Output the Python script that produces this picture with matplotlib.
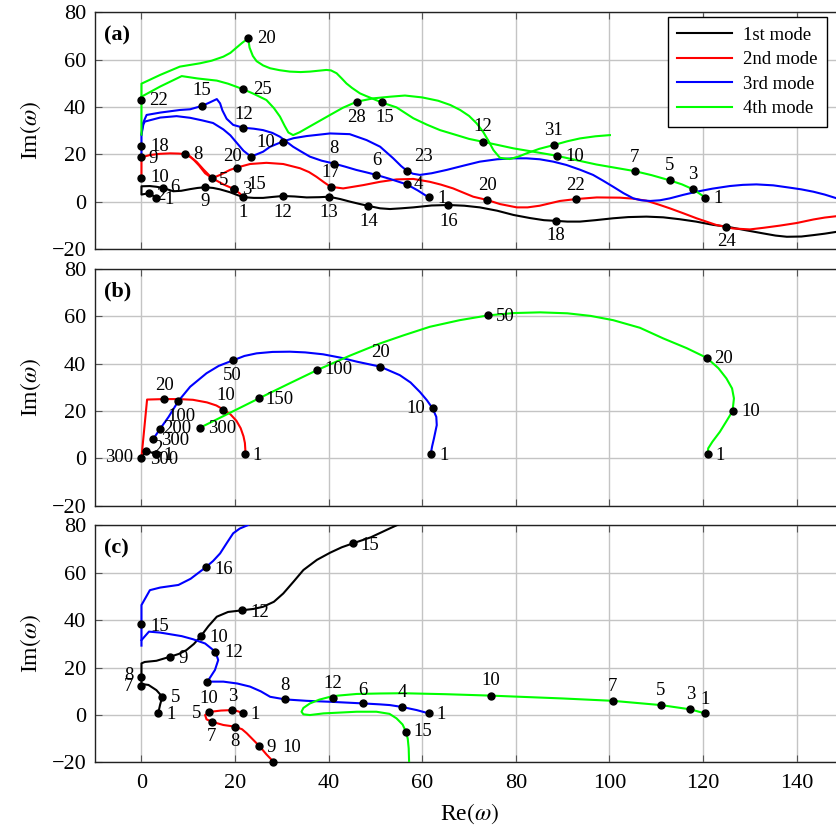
import matplotlib
matplotlib.use('Agg')
import matplotlib.pyplot as plt

# ---------------- data: panel (a) ----------------
a_black = [(3.2,1.6),(1.6,3.6),(0,3.0),(0,6.5),(1.8,6.6),(3.2,6.3),(4.6,5.8),(6.8,4.4),(8.5,4.6),(10.4,5.3),
           (12,5.8),(13.6,6.1),(15.3,5.8),(16.8,5.2),(18.9,4.0),(20.5,2.8),(21.8,1.9),(24,1.6),(26,1.6),(28,2.0),
           (30.2,2.4),(32.7,2.2),(35.3,1.8),(38,1.9),(40.1,2.1),(42.5,1.1),(44.6,0),(46.5,-0.9),(48.5,-1.8),
           (51,-2.8),(53.1,-3.1),(55.5,-2.8),(58.1,-2.4),(62,-1.6),(65.6,-1.4),(69,-1.7),(72.3,-2.4),(76,-3.8),
           (79.5,-5.6),(83,-6.9),(86,-7.8),(88.6,-8.1),(91,-8.4),(93.7,-8.4),(97,-7.8),(100.8,-7.0),(104,-6.5),
           (107.9,-6.3),(111.5,-6.6),(115,-7.4),(118.5,-8.4),(122.2,-9.8),(125,-10.5),(129,-12),(132.9,-13.4),
           (135.5,-14.3),(137.9,-14.8),(141,-14.7),(143.6,-14.1),(146,-13.5),(148.6,-12.7),(151,-12.0)]
a_red_1 = [(0,10.2),(0,18.7),(1.8,19.7),(4,20.2),(6.1,20.4),(8,20.3),(9.2,20.1),(10.5,18.8),(11.8,16.8),
           (13.3,13.5),(15.1,9.9),(16.5,8.4),(17.5,7.3),(19.7,5.4),(21,3.5),(21.8,1.9)]
a_red_2 = [(9.2,20.1),(10,19.8),(11.2,17.6),(12.3,15.3),(13.6,12.0),(15.1,9.9),(16.8,11.3),(18.9,13.4),
           (20.4,14.4),(23.2,15.9),(26.7,16.4),(30.3,15.9),(33.9,14.1),(35.8,12.5),(37.4,10.5),(39,8.2),
           (40.4,6.3),(43.1,5.6),(47.4,7.0),(51,8.4),(54.5,9.4),(58.1,9.6),(61.6,8.4),(64,7.2),(66.6,5.6),
           (68.8,3.8),(70.9,2.1),(73.9,0.7),(76.6,-1.0),(80.2,-2.4),(82.5,-2.4),(85.1,-1.7),(89.4,0.3),
           (92.8,1.1),(97.3,1.8),(102.2,1.7),(105,1.3),(107.9,0.4),(110.5,-1.2),(112.9,-2.8),(115.8,-4.9),
           (118.6,-7.0),(122.8,-9.8),(126.4,-11.3),(130,-11.7),(133,-11.0),(136.4,-10.1),(140,-9),
           (143.6,-7.5),(146,-6.7),(148.6,-6.1),(151,-5.7)]
a_blue_1 = [(0,19.0),(0,28.3),(0.3,33),(1.1,36.6),(4,37.6),(8.2,38.7),(10.4,39.0),(12.9,40.4),(14.5,41.8),
            (16.1,43.3),(16.8,41.5),(17.3,38.5),(18.2,35),(19.6,32.4),(21.8,31.2),(24,30.8),(26,30.2),(28,29.0),
            (29.6,27.4),(31,25.3),(32.4,23.2),(34,21.3),(36,19.0),(38.5,17.3),(41.1,16.1),(43.5,14.8),
            (45.9,13.4),(48,12.4),(50.2,11.3),(53.1,9.6),(56.7,7.3),(59,4.8),(61.4,1.8)]
a_blue_2 = [(0,28.3),(0.4,32.5),(0.7,33.8),(4,35.5),(7.5,36.1),(10.4,35.4),(13,34.3),(15.3,33.2),(17.5,30.5),
            (19,28),(20.5,24.5),(21.8,21.5),(23.4,19.0),(26,21.1),(27.5,23.2),(30.2,25.4),(32.5,26.8),
            (35.3,27.7),(40.3,28.8),(44.5,28.5),(48.1,26),(51,23.2),(53.8,18.3),(55.5,15),(56.7,13.1),
            (58,11.8),(59.5,11.3),(62,12),(65.2,13.4),(68.8,15.2),(72.3,16.9),(76,17.9),(79.4,18.3),
            (82.3,18.3),(85.1,17.9),(88,16.9),(90.8,15.5),(93.7,13.5),(96.5,11.3),(98.7,8.8),(100.8,6.3),
            (103,3.6),(105.1,1.4),(106.8,0.6),(108.7,0.3),(110.8,0.6),(112.9,1.4),(115.8,2.9),(118.6,4.2),
            (122,5.5),(125.7,6.6),(128.5,7.1),(131.4,7.3),(135,6.9),(138.6,5.9),(141,5.2),(143.6,4.2),
            (146,3.0),(148.6,1.4),(151,0.3)]
a_green_1 = [(0,28.3),(0,49.8),(4,53.5),(8.2,57),(12.5,58.4),(15,59.5),(17.5,61.2),(19,62.8),(20.3,65),
             (21.5,67),(22.8,68.9),(23.1,65),(23.8,61.5),(24.6,59.3),(26,57.5),(27.5,56.3),(29.5,55.5),
             (31.7,54.9),(34,54.7),(36,54.9),(38,55.3),(39.5,55.6),(40.5,55.4),(41.7,54.2),(42.8,52),
             (43.8,49.9),(45,48),(46.7,45.7),(48,44.6),(49.5,43.4),(51.3,41.9),(54.5,39.8),(58.1,35.2),
             (61,32.5),(63.8,30.2),(67,28.3),(70,26.5),(72.9,25.3),(76,24),(79.5,22.5),(84,21),(88.7,19.4),
             (93,17.5),(97.2,15.7),(101,14.4),(105.4,12.9),(109,11.2),(112.9,9.0),(115.5,7.3),(117.9,5.2),
             (119.7,2.8),(120.5,1.7)]
a_green_2 = [(0,44.3),(4,48.6),(8.6,53),(12,52),(16.1,51.1),(18.5,49.8),(20.3,48.5),(21.8,47.4),(24,45.5),
             (26.7,42.9),(28.3,39.5),(29.6,35.9),(30.6,32),(31.4,29.2),(32.4,28.1),(33.8,29.3),(35.3,31.0),
             (37.8,33.8),(40.3,36.6),(43,39.6),(46,42.2),(49.5,43.6),(53.1,44.3),(56.3,44.8),(60,44),
             (63.4,42.6),(66,40.8),(68.1,38.7),(70,36.2),(71.6,33.1),(73,29.5),(74.2,25.5),(75.2,21.8),
             (76.6,18.5),(78.7,18.0),(80.5,19.0),(82.3,20.4),(85,22.3),(88.1,23.9),(91,25.5),(93.7,26.7),
             (97,27.6),(100.1,28.1)]
a_points = [(22.8,68.9,'20'),(0,42.9,'22'),(21.8,47.4,'25'),(12.9,40.4,'15'),(21.8,31.2,'12'),
            (46.0,42.2,'28'),(51.3,41.9,'15'),(0,23.5,'18'),(0,18.7,'9'),(9.2,20.1,'8'),(30.2,25.4,'10'),
            (23.4,19.0,'20'),(20.4,14.4,''),(41.1,16.1,'8'),(50.2,11.3,'6'),(0,10.2,'10'),(15.1,9.9,'5'),
            (40.4,6.3,'17'),(4.6,5.8,'6'),(13.6,6.1,'9'),(19.7,5.4,'3'),(19.7,5.4,'15'),(21.8,1.9,'1'),
            (30.2,2.4,'12'),(40.1,2.1,'13'),(48.5,-1.8,'14'),(1.6,3.6,'2'),(3.2,1.6,'1'),(56.7,13.1,'23'),
            (56.7,7.3,'4'),(61.4,1.8,'1'),(65.6,-1.4,'16'),(72.9,25.3,'12'),(73.9,0.7,'20'),(88.1,23.9,'31'),
            (88.7,19.4,'10'),(88.6,-8.1,'18'),(92.8,1.1,'22'),(105.4,12.9,'7'),(112.9,9.0,'5'),
            (117.9,5.2,'3'),(120.5,1.7,'1'),(125.0,-10.5,'24')]

# ---------------- data: panel (b) ----------------
b_black = [(3.2,1.7),(1.0,3.2),(0.3,1.5),(0,0.3)]
b_red = [(0,0.3),(1.2,24.8),(4.9,25.0),(8,25.0),(11,24.7),(14,23.6),(16,22.3),(17.5,20.6),(19,18.6),
         (20.3,15.8),(21.2,12.7),(21.8,9.3),(22.1,6.5),(22.2,3.5),(22.1,1.7)]
b_blue = [(2.5,8.1),(3.9,12.2),(5.8,17.5),(7.9,24.2),(10.4,30.2),(13.9,35.9),(16.5,39),(19.5,41.3),
          (22,43.2),(24.6,44.3),(28,44.9),(31.7,45.0),(35,44.7),(38.8,43.9),(42.5,42.5),(46,40.8),
          (51,38.7),(55.2,35.1),(57.5,32),(59.5,28.0),(61,24.5),(62.2,21.1),(63,17.5),(63.1,14),(62.5,8.4),
          (62.1,5),(61.8,1.7)]
b_green = [(12.5,12.9),(18.8,19.1),(25.1,25.3),(31.4,31.4),(37.6,37.3),(44.5,43.3),(51,48.5),(56,51.9),
           (61.6,55.5),(68,58.3),(74,60.3),(79.5,61.3),(85.2,61.6),(91,61.2),(96,60.1),(100.8,58.3),
           (106.5,55.1),(111.5,50.6),(116.5,46.5),(120.8,42.4),(123.3,38),(125,33.7),(126.2,29.5),
           (126.6,25.3),(126.3,19.9),(125.1,16),(123.6,11.2),(122,7),(121.1,4.2),(121,1.7)]
b_points = [(0,0.3,'300'),(1.0,3.2,'2'),(3.2,1.7,'1'),(3.2,1.7,'300'),(2.5,8.1,'300'),(3.9,12.2,'200'),
            (7.9,24.2,'100'),(4.9,25.0,'20'),(17.5,20.6,'10'),(22.1,1.7,'1'),(12.5,12.9,'300'),
            (25.1,25.3,'150'),(37.6,37.3,'100'),(19.5,41.3,'50'),(51.0,38.7,'20'),(74.0,60.3,'50'),
            (62.2,21.1,'10'),(61.8,1.7,'1'),(120.8,42.4,'20'),(126.3,19.9,'10'),(121.0,1.7,'1')]

# ---------------- data: panel (c) ----------------
c_black = [(3.6,1.0),(4.0,4.5),(4.45,7.7),(3.2,10.5),(1.5,12.7),(0,13.1),(0,15.9),(0,21.8),(0.7,22.4),
           (3.2,22.9),(6.1,24.6),(8,25.8),(9.6,27.4),(11.2,30),(12.7,33.3),(14.3,37.5),(16.1,41.5),
           (18.5,43.5),(21.5,44.2),(24,44.8),(26,45.7),(28.3,47.8),(30.3,51.3),(32.5,56.3),(34.6,61.2),
           (37.5,65.5),(40.3,68.5),(42.8,70.8),(45.1,72.4),(49,75),(53.1,78.8),(55,80.5)]
c_red = [(21.8,0.7),(20.6,1.6),(19.4,2.1),(17,1.9),(14.5,1.3),(13.6,0),(13.9,-1.8),(15,-2.8),(17.5,-4.2),
         (20,-4.9),(21.5,-6),(22.5,-7.7),(24.3,-11.3),(25.2,-13.1),(26.7,-16.6),(28.2,-19.7),(28.5,-20.5)]
c_blue_1 = [(0,29.3),(0,38.4),(0,46.4),(1.8,52.7),(4,53.8),(7.9,54.9),(10.5,57.5),(13.7,62.3),(15.3,65),
            (16.8,68.2),(18.2,72.5),(19.6,76.7),(21,78.7),(22.8,80.2)]
c_blue_2 = [(0,31.6),(1.6,35.2),(4,34.8),(8.6,33.3),(11,32.0),(13.6,30.2),(15.8,26.7),(16.4,23.2),
            (15.7,19.0),(14.1,14.1),(17.5,14.1),(20.5,13.3),(23.2,12.0),(25.5,10.0),(27.5,7.7),(30.7,6.6),
            (35.3,6.0),(40.3,5.6),(47.4,4.9),(51,4.5),(53.1,4.2),(55.7,3.4),(58.8,2.1),(61.4,0.7)]
c_green = [(120.4,0.7),(117.3,2.4),(111,4.2),(100.7,6.0),(90,7.0),(74.6,8.2),(65,8.8),(56,9.2),(51,9.1),
           (46,8.9),(42,8.2),(40.3,7.7),(38,6.5),(36,4.9),(34.6,3),(34.2,1.4),(34.6,0.3),(36,0),(38.9,0.7),
           (42,1.0),(46,1.4),(50.2,1.4),(53,0.5),(54.5,-1.4),(55.8,-4),(56.5,-7.0),(56.9,-10),(57.1,-14),
           (57.2,-20.5)]
c_points = [(13.7,62.3,'16'),(45.1,72.4,'15'),(21.5,44.2,'12'),(0,38.4,'15'),(12.7,33.3,'10'),
            (15.8,26.7,'12'),(6.1,24.6,'9'),(0,15.9,'8'),(0,12.4,'7'),(4.45,7.7,'5'),(3.6,1.0,'1'),
            (14.1,14.1,'10'),(19.4,2.1,'3'),(21.8,0.7,'1'),(14.5,1.3,'5'),(15,-2.8,'7'),(20,-4.9,'8'),
            (25.2,-13.1,'9'),(28.2,-19.9,'10'),(30.7,6.6,'8'),(40.9,7.3,'12'),(47.4,4.9,'6'),(55.7,3.4,'4'),
            (61.4,0.7,'1'),(56.5,-7.0,'15'),(74.6,8.2,'10'),(100.7,6.0,'7'),(111,4.2,'5'),(117.3,2.4,'3'),
            (120.4,0.7,'1')]

legend_labels = ['1st mode', '2nd mode', '3rd mode', '4th mode']
x_ticks = [0, 20, 40, 60, 80, 100, 120, 140]
y_ticks = [-20, 0, 20, 40, 60, 80]
panel_tags = ['(a)', '(b)', '(c)']

# ---------------- label offsets (pixels: right, up) ----------------
a_off = [(18,0),(17,0),(19,0),(0,15),(0,13),(0,-16),(3,-15),(18,0),(12,-1),(13,0),(-17,-1),(-18,0),(0,0),
         (0,15),(0,14),(18,0),(11,-2),(0,14),(12,0),(0,-14),(13,-1),(23,4),(0,-15),(0,-16),(0,-16),(0,-16),
         (12,-2),(13,-2),(17,14),(12,0),(13,-1),(0,-16),(0,15),(0,15),(0,15),(18,-1),(0,-15),(0,14),(0,14),
         (0,15),(0,15),(13,-1),(0,-15)]
b_off = [(-22,0),(12,2),(12,-1),(8,-5),(22,-1),(17,1),(3,-16),(0,14),(2,14),(12,-1),(22,-1),(21,-1),(21,0),
         (0,-15),(0,14),(17,-1),(-17,0),(13,-1),(17,-1),(18,0),(12,-1)]
c_off = [(18,-2),(17,-2),(18,-2),(18,-2),(18,-1),(18,-1),(13,-2),(-13,2),(-13,-1),(13,-1),(13,-2),
         (1,-17),(0,14),(12,-1),(-13,-2),(0,-15),(0,-15),(12,-1),(18,15),(0,14),(0,14),(0,13),(0,14),
         (12,-1),(17,0),(0,15),(0,14),(0,15),(0,15),(0,14)]

COL = {'k': '#000000', 'r': '#ff0000', 'b': '#0000ff', 'g': '#00ff00'}

plt.rcParams['font.family'] = ['Liberation Serif', 'DejaVu Serif']
plt.rcParams['mathtext.fontset'] = 'stix'

fig = plt.figure(figsize=(8.37, 8.3), dpi=100)
L, W, H = 0.1131, 0.8946, 0.2855
bottoms = [0.6999, 0.3907, 0.0814]
axes = [fig.add_axes([L, b, W, H]) for b in bottoms]

panels = [
    ([(a_black,'k'),(a_red_1,'r'),(a_red_2,'r'),(a_blue_1,'b'),(a_blue_2,'b'),(a_green_1,'g'),(a_green_2,'g')],
     a_points, a_off),
    ([(b_black,'k'),(b_red,'r'),(b_blue,'b'),(b_green,'g')], b_points, b_off),
    ([(c_black,'k'),(c_red,'r'),(c_blue_1,'b'),(c_blue_2,'b'),(c_green,'g')], c_points, c_off),
]

for i, (ax, (curves, pts, offs)) in enumerate(zip(axes, panels)):
    ax.set_xlim(-10, 150)
    ax.set_ylim(-20, 80)
    ax.set_xticks(x_ticks)
    ax.set_yticks(y_ticks)
    ax.grid(True, color='#c4c4c4', lw=1.0, zorder=0)
    ax.set_axisbelow(True)
    for s in ax.spines.values():
        s.set_color('#222222'); s.set_linewidth(1.0)
    ax.tick_params(direction='in', length=5, width=0.8, color='#555555', top=True, right=True,
                   labelsize=16, pad=6)
    ax.tick_params(axis='x', pad=8)
    if i < 2:
        ax.tick_params(labelbottom=False)
    for c, col in curves:
        ax.plot([p[0] for p in c], [p[1] for p in c], color=COL[col], lw=1.5, zorder=3,
                solid_joinstyle='round', clip_on=True)
    ax.plot([p[0] for p in pts], [p[1] for p in pts], 'o', color='black', ms=5, zorder=5, clip_on=False)
    for (x, y, t), (dx, dy) in zip(pts, offs):
        if t:
            ax.annotate(t, (x, y), xytext=(dx, dy), textcoords='offset pixels', ha='center', va='center',
                        fontsize=13.5, zorder=6, annotation_clip=False)
    ax.set_ylabel(r'Im$(\omega)$', fontsize=17, va='center')
    ax.yaxis.set_label_coords(-0.085, 0.5)
    ax.text(0.0124, 0.903, panel_tags[i], transform=ax.transAxes, fontsize=16, fontweight='bold',
            ha='left', va='center')

axes[2].set_xlabel(r'Re$(\omega)$', fontsize=17, va='center')
axes[2].xaxis.set_label_coords(0.5, -0.215)

handles = [plt.Line2D([], [], color=COL[c], lw=1.5) for c in 'krbg']
leg = axes[0].legend(handles, legend_labels, loc='upper right', bbox_to_anchor=(0.978, 0.979),
                     borderaxespad=0, fontsize=13.5, frameon=True, fancybox=False, framealpha=1,
                     edgecolor='black', handlelength=2.9, labelspacing=0.4, borderpad=0.5,
                     handletextpad=0.6)
leg.get_frame().set_linewidth(1.0)

fig.savefig('out.png', dpi=100)
